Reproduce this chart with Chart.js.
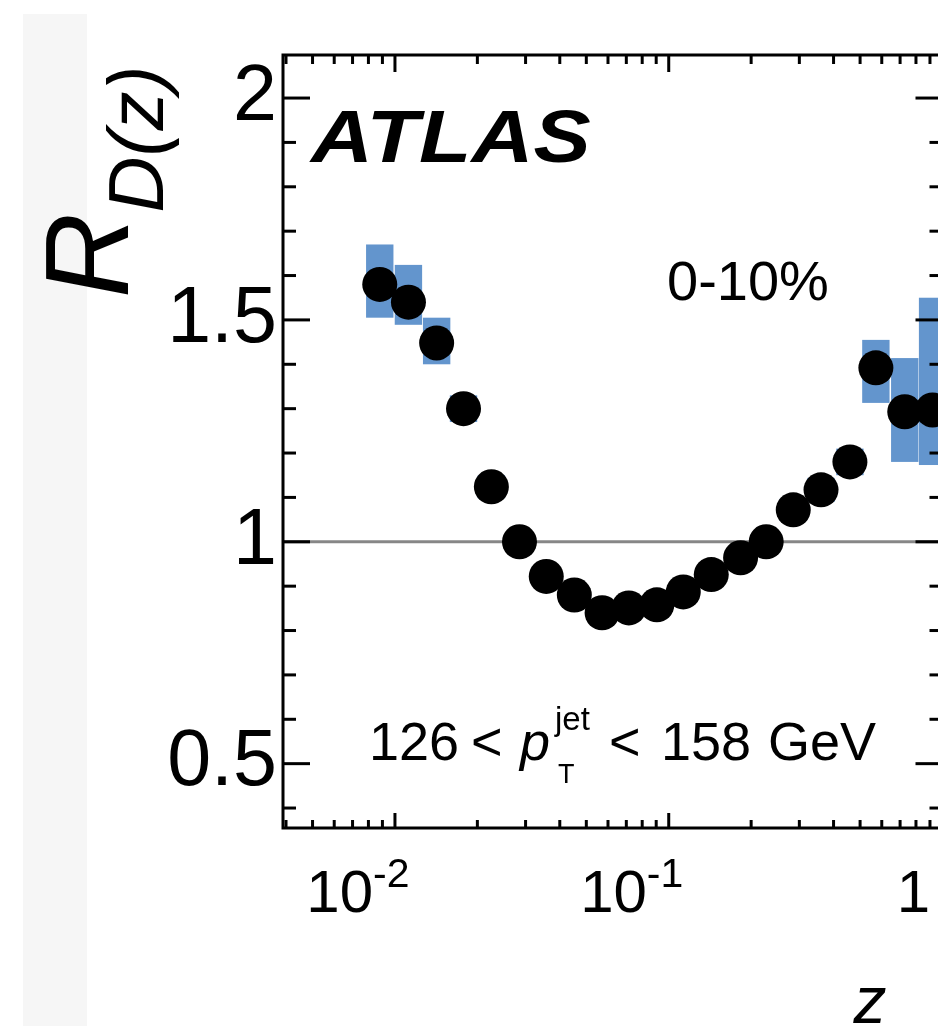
<!DOCTYPE html>
<html>
<head>
<meta charset="utf-8">
<script src="https://cdn.jsdelivr.net/npm/chart.js@4/dist/chart.umd.min.js"></script>
<style>
  html, body { margin: 0; padding: 0; background: #fff; overflow: hidden; }
  #strip { position: absolute; left: 23px; top: 14px; width: 64px; height: 1012px; background: #f6f6f6; }
  #wrap { position: absolute; left: 0; top: 0; width: 960px; height: 1026px; }
</style>
</head>
<body>
<div id="strip"></div>
<div id="wrap"><canvas id="rdz"></canvas></div>
<script>
// R_D(z), 0-10%, 126 < pT jet < 158 GeV
const zCenters = [0.0088, 0.0112, 0.0142, 0.0178, 0.0225, 0.0285, 0.0357, 0.0452, 0.0571, 0.0715, 0.0905,
                  0.113, 0.143, 0.183, 0.227, 0.285, 0.360, 0.459, 0.571, 0.728, 0.920];
const rdzValues = [1.58, 1.54, 1.448, 1.30, 1.124, 1.00, 0.922, 0.88, 0.84, 0.851, 0.858,
                   0.887, 0.926, 0.964, 1.00, 1.072, 1.117, 1.18, 1.392, 1.293, 1.297];
const sysUp = [0.09, 0.084, 0.057, 0.03, 0.026, 0.022, 0.02, 0.02, 0.02, 0.02, 0.02,
               0.02, 0.02, 0.02, 0.022, 0.025, 0.027, 0.03, 0.063, 0.121, 0.253];
const sysDown = [0.075, 0.051, 0.048, 0.03, 0.026, 0.022, 0.02, 0.02, 0.02, 0.02, 0.02,
                 0.02, 0.02, 0.02, 0.022, 0.025, 0.027, 0.03, 0.079, 0.113, 0.124];

const yMajorTicks = [0.5, 1, 1.5, 2];
const yTickLabels = ['0.5', '1', '1.5', '2'];
const xMajorTicks = [0.01, 0.1, 1];
const xTickBase = ['10', '10', '1'];
const xTickExp = ['-2', '-1', ''];

const sysColor = 'rgb(99, 149, 205)';
const font = '"Liberation Sans", Arial, sans-serif';

function line(ctx, x0, y0, x1, y1) {
    ctx.beginPath();
    ctx.moveTo(x0, y0);
    ctx.lineTo(x1, y1);
    ctx.stroke();
}

const atlasDecor = {
    id: 'atlasDecor',
    beforeDatasetsDraw(chart) {
        const {ctx, chartArea: a, scales: {x, y}} = chart;
        ctx.save();
        ctx.beginPath();
        ctx.rect(a.left, a.top, a.right - a.left, a.bottom - a.top);
        ctx.clip();
        // systematic boxes, one bin wide (0.1 decade)
        const half = Math.pow(10, 0.05);
        ctx.fillStyle = sysColor;
        zCenters.forEach((z, i) => {
            const x0 = x.getPixelForValue(z / half);
            const x1 = x.getPixelForValue(z * half);
            const y0 = y.getPixelForValue(rdzValues[i] + sysUp[i]);
            const y1 = y.getPixelForValue(rdzValues[i] - sysDown[i]);
            ctx.fillRect(x0, y0, x1 - x0, y1 - y0);
        });
        // unity line
        ctx.strokeStyle = 'rgb(135,135,135)';
        ctx.lineWidth = 3;
        const py = y.getPixelForValue(1);
        line(ctx, a.left, py, a.right, py);
        ctx.restore();
    },
    afterDraw(chart) {
        const {ctx, chartArea: a, scales: {x, y}} = chart;
        ctx.save();
        ctx.strokeStyle = '#000';
        ctx.lineWidth = 3;
        ctx.strokeRect(a.left, a.top, a.right - a.left, a.bottom - a.top);

        // y ticks, both sides, pointing inward
        for (let k = 4; k <= 20; k++) {
            const py = y.getPixelForValue(k / 10);
            const len = k % 5 === 0 ? 27 : 13;
            line(ctx, a.left, py, a.left + len, py);
            line(ctx, a.right, py, a.right - len, py);
        }
        // x ticks, log minor ticks
        for (let d = -3; d <= 0; d++) {
            for (let m = 1; m <= 9; m++) {
                const v = m * Math.pow(10, d);
                if (v < x.min || v > x.max) continue;
                const px = x.getPixelForValue(v);
                line(ctx, px, a.bottom, px, a.bottom - (m === 1 ? 15 : 8));
                line(ctx, px, a.top, px, a.top + (m === 1 ? 17 : 9));
            }
        }

        // x tick labels with exponents
        ctx.fillStyle = '#000';
        ctx.textBaseline = 'alphabetic';
        ctx.textAlign = 'left';
        xMajorTicks.forEach((v, i) => {
            const cx = x.getPixelForValue(v) - (xTickExp[i] ? 37 : 29);
            ctx.font = '60px ' + font;
            const w1 = ctx.measureText(xTickBase[i]).width;
            ctx.font = '41px ' + font;
            const w2 = xTickExp[i] ? ctx.measureText(xTickExp[i]).width : 0;
            const left = cx - (w1 + w2) / 2;
            ctx.font = '60px ' + font;
            ctx.fillText(xTickBase[i], left, 912);
            if (xTickExp[i]) {
                ctx.font = '41px ' + font;
                ctx.fillText(xTickExp[i], left + w1, 887);
            }
        });

        // axis titles
        ctx.font = 'italic 66px ' + font;
        ctx.textAlign = 'center';
        ctx.fillText('z', 870, 1023);
        ctx.textAlign = 'left';

        ctx.save();
        ctx.translate(128, 298);
        ctx.rotate(-Math.PI / 2);
        ctx.font = 'italic 118px ' + font;
        ctx.fillText('R', 0, 0);
        const rw = ctx.measureText('R').width;
        ctx.font = 'italic 78px ' + font;
        ctx.fillText('D(z)', rw, 35);
        ctx.restore();

        // labels inside the frame
        ctx.save();
        ctx.translate(311, 162);
        ctx.scale(1.1, 0.96);
        ctx.font = 'italic bold 78px ' + font;
        ctx.fillText('ATLAS', 0, 0);
        ctx.restore();

        ctx.font = '56px ' + font;
        ctx.fillText('0-10%', 667, 300);

        ctx.font = '54px ' + font;
        ctx.fillText('126', 369, 760);
        ctx.fillText('<', 471, 760);
        ctx.font = 'italic 54px ' + font;
        ctx.fillText('p', 520, 760);
        ctx.font = '33px ' + font;
        ctx.fillText('jet', 555, 730);
        ctx.font = '27px ' + font;
        ctx.fillText('T', 558, 783);
        ctx.font = '54px ' + font;
        ctx.fillText('<', 609, 760);
        ctx.fillText('158', 661, 760);
        ctx.fillText('GeV', 768, 760);
        ctx.restore();
    }
};

new Chart(document.getElementById('rdz'), {
    type: 'scatter',
    data: {
        datasets: [{
            label: 'R_D(z)',
            data: zCenters.map((z, i) => ({x: z, y: rdzValues[i]})),
            pointRadius: 17.5,
            pointHoverRadius: 17.5,
            backgroundColor: '#000',
            borderWidth: 0
        }]
    },
    options: {
        responsive: true,
        maintainAspectRatio: false,
        animation: false,
        layout: {padding: {top: 55, right: 15, left: 0, bottom: 0}},
        plugins: {legend: {display: false}, tooltip: {enabled: false}},
        scales: {
            x: {
                type: 'logarithmic',
                min: 0.0039,
                max: 1,
                grid: {display: false, drawTicks: false},
                border: {display: false},
                ticks: {display: false},
                afterBuildTicks: s => { s.ticks = xMajorTicks.map(v => ({value: v})); },
                afterFit: s => { s.height = 198; }
            },
            y: {
                type: 'linear',
                min: 0.355,
                max: 2.097,
                grid: {display: false, drawTicks: false},
                border: {display: false},
                ticks: {
                    color: '#000',
                    padding: 6,
                    font: {family: 'Liberation Sans', size: 79},
                    callback: v => yTickLabels[yMajorTicks.indexOf(v)]
                },
                afterBuildTicks: s => { s.ticks = yMajorTicks.map(v => ({value: v})); },
                afterFit: s => { s.width = 283; }
            }
        }
    },
    plugins: [atlasDecor]
});
</script>
</body>
</html>
